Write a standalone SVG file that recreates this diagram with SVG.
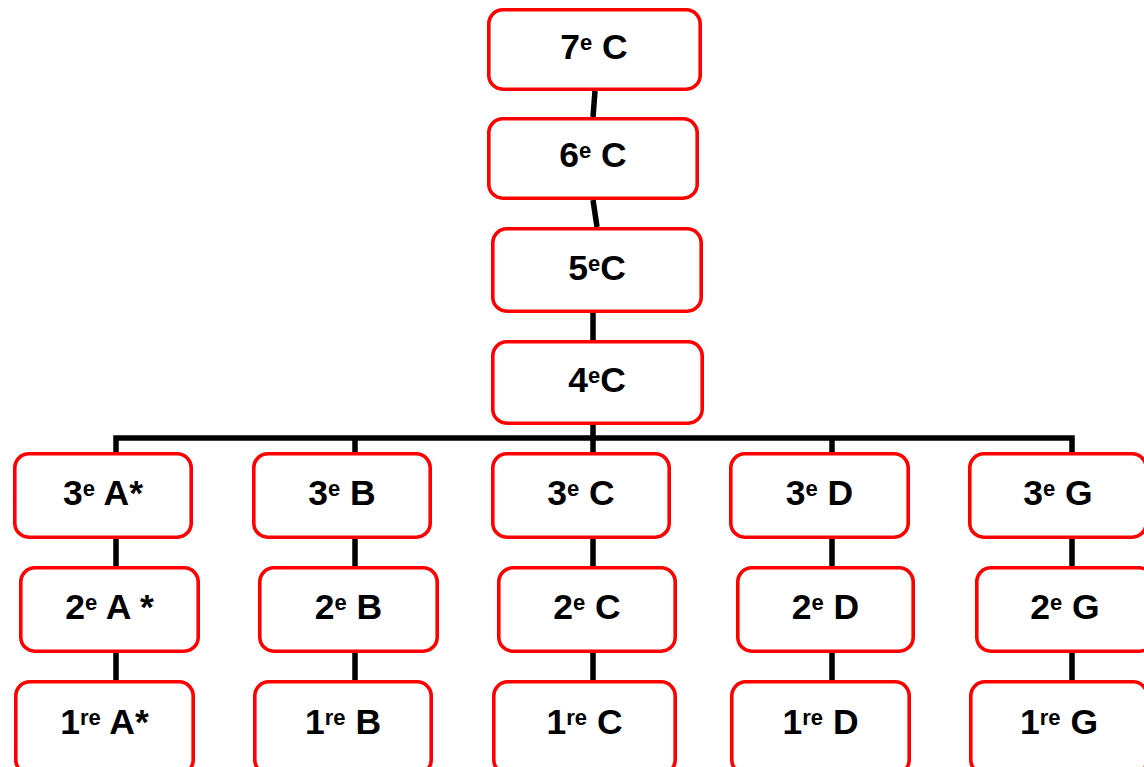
<svg xmlns="http://www.w3.org/2000/svg" width="1144" height="767" viewBox="0 0 1144 767">
<style>
.box{fill:#fff;stroke:#ff0000;stroke-width:3.6}
.lbl{font-family:"Liberation Sans",Arial,sans-serif;font-weight:bold;font-size:35.5px;fill:#000;text-anchor:middle}
.sup{font-size:22px}
.con{stroke:#000;stroke-width:5.5;fill:none}
</style>
<rect width="1144" height="767" fill="#fff"/>
<g id="connectors">
<path class="con" d="M595,91 L593,117"/>
<path class="con" d="M593,200 L597,227"/>
<path class="con" d="M593,313 V340"/>
<path class="con" d="M593,425 V452"/>
<path class="con" d="M116,453 V438 H1072 V453"/>
<path class="con" d="M355,438 V453"/>
<path class="con" d="M832,438 V453"/>
<path class="con" d="M116,539 V566 M116,653 V680"/>
<path class="con" d="M355,539 V566 M355,653 V680"/>
<path class="con" d="M593,539 V566 M593,653 V680"/>
<path class="con" d="M832,539 V566 M832,653 V680"/>
<path class="con" d="M1072,539 V566 M1072,653 V680"/>
</g>
<g id="n7C"><rect class="box" x="488.8" y="9.8" width="211.4" height="79.4" rx="14"/><text class="lbl" x="594" y="59">7<tspan class="sup" dy="-9">e</tspan><tspan dy="9"> C</tspan></text></g>
<g id="n6C"><rect class="box" x="488.8" y="118.8" width="208.4" height="79.4" rx="14"/><text class="lbl" x="593" y="167">6<tspan class="sup" dy="-9">e</tspan><tspan dy="9"> C</tspan></text></g>
<g id="n5C"><rect class="box" x="492.8" y="228.8" width="208.4" height="82.4" rx="14"/><text class="lbl" x="597" y="280">5<tspan class="sup" dy="-9">e</tspan><tspan dy="9">C</tspan></text></g>
<g id="n4C"><rect class="box" x="492.8" y="341.8" width="209.4" height="81.4" rx="14"/><text class="lbl" x="597" y="392">4<tspan class="sup" dy="-9">e</tspan><tspan dy="9">C</tspan></text></g>

<g id="n3A"><rect class="box" x="14.8" y="453.8" width="176.4" height="83.4" rx="14"/><text class="lbl" x="103" y="505">3<tspan class="sup" dy="-9">e</tspan><tspan dy="9"> A*</tspan></text></g>
<g id="n2A"><rect class="box" x="20.8" y="567.8" width="177.4" height="83.4" rx="14"/><text class="lbl" x="109.5" y="619">2<tspan class="sup" dy="-9">e</tspan><tspan dy="9"> A *</tspan></text></g>
<g id="n1A"><rect class="box" x="15.8" y="681.8" width="177.4" height="92" rx="14"/><text class="lbl" x="104.5" y="734">1<tspan class="sup" dy="-9">re</tspan><tspan dy="9"> A*</tspan></text></g>

<g id="n3B"><rect class="box" x="253.8" y="453.8" width="176.4" height="83.4" rx="14"/><text class="lbl" x="342" y="505">3<tspan class="sup" dy="-9">e</tspan><tspan dy="9"> B</tspan></text></g>
<g id="n2B"><rect class="box" x="259.8" y="567.8" width="177.4" height="83.4" rx="14"/><text class="lbl" x="348.5" y="619">2<tspan class="sup" dy="-9">e</tspan><tspan dy="9"> B</tspan></text></g>
<g id="n1B"><rect class="box" x="254.8" y="681.8" width="176.4" height="92" rx="14"/><text class="lbl" x="343" y="734">1<tspan class="sup" dy="-9">re</tspan><tspan dy="9"> B</tspan></text></g>

<g id="n3C"><rect class="box" x="492.8" y="453.8" width="176.4" height="83.4" rx="14"/><text class="lbl" x="581" y="505">3<tspan class="sup" dy="-9">e</tspan><tspan dy="9"> C</tspan></text></g>
<g id="n2C"><rect class="box" x="498.8" y="567.8" width="176.4" height="83.4" rx="14"/><text class="lbl" x="587" y="619">2<tspan class="sup" dy="-9">e</tspan><tspan dy="9"> C</tspan></text></g>
<g id="n1C"><rect class="box" x="493.8" y="681.8" width="181.4" height="92" rx="14"/><text class="lbl" x="584.5" y="734">1<tspan class="sup" dy="-9">re</tspan><tspan dy="9"> C</tspan></text></g>

<g id="n3D"><rect class="box" x="730.8" y="453.8" width="177.4" height="83.4" rx="14"/><text class="lbl" x="819.5" y="505">3<tspan class="sup" dy="-9">e</tspan><tspan dy="9"> D</tspan></text></g>
<g id="n2D"><rect class="box" x="737.8" y="567.8" width="175.4" height="83.4" rx="14"/><text class="lbl" x="825.5" y="619">2<tspan class="sup" dy="-9">e</tspan><tspan dy="9"> D</tspan></text></g>
<g id="n1D"><rect class="box" x="731.8" y="681.8" width="177.4" height="92" rx="14"/><text class="lbl" x="820.5" y="734">1<tspan class="sup" dy="-9">re</tspan><tspan dy="9"> D</tspan></text></g>

<g id="n3G"><rect class="box" x="969.8" y="453.8" width="176.4" height="83.4" rx="14"/><text class="lbl" x="1058" y="505">3<tspan class="sup" dy="-9">e</tspan><tspan dy="9"> G</tspan></text></g>
<g id="n2G"><rect class="box" x="976.8" y="567.8" width="176.4" height="83.4" rx="14"/><text class="lbl" x="1065" y="619">2<tspan class="sup" dy="-9">e</tspan><tspan dy="9"> G</tspan></text></g>
<g id="n1G"><rect class="box" x="970.8" y="681.8" width="176.4" height="92" rx="14"/><text class="lbl" x="1059" y="734">1<tspan class="sup" dy="-9">re</tspan><tspan dy="9"> G</tspan></text></g>
</svg>
